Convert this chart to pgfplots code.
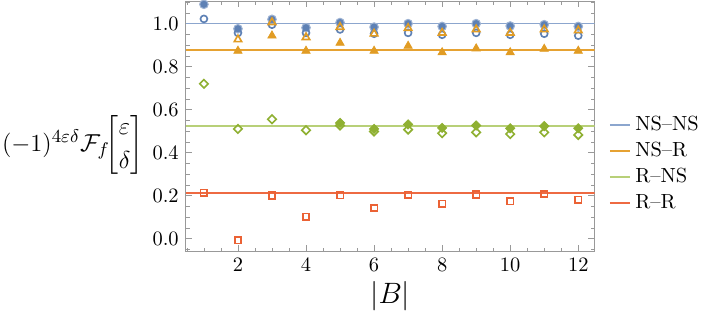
\documentclass[border=0pt]{standalone}
\usepackage{amsmath}
\usepackage{pgfplots}
\pgfplotsset{compat=1.18}
\definecolor{mblue}{RGB}{94,129,181}
\definecolor{morange}{RGB}{225,156,36}
\definecolor{mgreen}{RGB}{143,176,50}
\definecolor{mred}{RGB}{235,98,53}
\definecolor{lineA}{RGB}{140,166,206}
\definecolor{lineB}{RGB}{230,162,50}
\definecolor{lineC}{RGB}{184,208,120}
\definecolor{lineD}{RGB}{238,106,66}
\newcommand{\ylab}{$(-1)^{4\varepsilon\delta}\mathcal{F}_f\!\genfrac{[}{]}{0pt}{0}{\varepsilon}{\delta}$}
\begin{document}
\begin{tikzpicture}
\begin{axis}[
  scale only axis,
  width=200pt, height=122.5pt,
  xmin=0.47, xmax=12.48, ymin=-0.06, ymax=1.105,
  xtick={2,4,...,12},
  minor xtick={0.5,1,...,12.5},
  ytick={0,0.2,...,1.0},
  minor ytick={-0.05,0,...,1.1},
  yticklabel style={/pgf/number format/fixed,/pgf/number format/fixed zerofill,/pgf/number format/precision=1},
  tick align=inside,
  major tick length=3pt, minor tick length=1.8pt,
  tick style={gray!80},
  axis line style={gray!80},
  every tick label/.append style={font=\fontsize{10}{12}\selectfont},
  xlabel={$|B|$},
  xlabel style={font=\fontsize{14}{16}\selectfont, yshift=2pt},
  ylabel={\ylab},
  ylabel style={rotate=-90, font=\fontsize{13}{16}\selectfont, anchor=east, at={(ticklabel cs:0.49)}, xshift=0pt, yshift=-8pt, inner sep=1pt},
  legend style={at={(1.027,0.349)}, anchor=west, draw=none, fill=none, inner sep=1.5pt,
    font=\fontsize{10}{12}\selectfont, row sep=0.2pt},
  legend cell align=left,
  legend image code/.code={\draw[#1] (0pt,0pt) -- (10pt,0pt);},
]
\addplot[draw=lineA, line width=0.8pt] coordinates {(0.47,1.0) (12.48,1.0)};
\addlegendentry{NS--NS}
\addplot[draw=lineB, line width=0.8pt] coordinates {(0.47,0.876) (12.48,0.876)};
\addlegendentry{NS--R}
\addplot[draw=lineC, line width=0.8pt] coordinates {(0.47,0.523) (12.48,0.523)};
\addlegendentry{R--NS}
\addplot[draw=lineD, line width=0.8pt] coordinates {(0.47,0.213) (12.48,0.213)};
\addlegendentry{R--R}

% filled circles
\addplot[only marks, mark=*, mark size=2.1pt, mblue, mark options={fill=mblue, draw=mblue!60!white, line width=0.5pt}, forget plot] coordinates {
(1,1.090) (2,0.976) (3,1.020) (4,0.981) (5,1.005) (6,0.984) (7,1.000) (8,0.987) (9,1.000) (10,0.989) (11,0.995) (12,0.987)};
% open circles
\addplot[only marks, mark=o, mark size=1.7pt, mblue, mark options={line width=0.8pt, fill=white}, forget plot] coordinates {
(1,1.022) (2,0.957) (3,0.995) (4,0.957) (5,0.973) (6,0.953) (7,0.957) (8,0.948) (9,0.957) (10,0.948) (11,0.953) (12,0.944)};
% filled triangles
\addplot[only marks, mark=triangle*, mark size=2.3pt, morange, mark options={fill=morange}, forget plot] coordinates {
(2,0.873) (3,0.944) (4,0.873) (5,0.910) (6,0.873) (7,0.896) (8,0.866) (9,0.884) (10,0.866) (11,0.882) (12,0.873)};
% open triangles
\addplot[only marks, mark=triangle, mark size=2.1pt, morange, mark options={line width=0.8pt, fill=white}, forget plot] coordinates {
(2,0.926) (3,1.006) (4,0.936) (5,0.984) (6,0.953) (7,0.979) (8,0.957) (9,0.973) (10,0.957) (11,0.973) (12,0.968)};
% filled diamonds
\addplot[only marks, mark=square*, mark size=1.6pt, mgreen, mark options={fill=mgreen, rotate=45}, forget plot] coordinates {
(5,0.538) (6,0.510) (7,0.531) (8,0.515) (9,0.526) (10,0.513) (11,0.523) (12,0.513)};
% open diamonds
\addplot[only marks, mark=square, mark size=1.45pt, mgreen, mark options={line width=0.8pt, fill=white, rotate=45}, forget plot] coordinates {
(1,0.720) (2,0.510) (3,0.555) (4,0.504) (5,0.526) (6,0.498) (7,0.507) (8,0.490) (9,0.494) (10,0.486) (11,0.494) (12,0.482)};
% open squares
\addplot[only marks, mark=square, mark size=1.6pt, mred, mark options={line width=0.8pt, fill=white}, forget plot] coordinates {
(1,0.213) (2,-0.008) (3,0.200) (4,0.102) (5,0.202) (6,0.142) (7,0.204) (8,0.161) (9,0.205) (10,0.173) (11,0.207) (12,0.181)};
\end{axis}
\end{tikzpicture}
\end{document}
